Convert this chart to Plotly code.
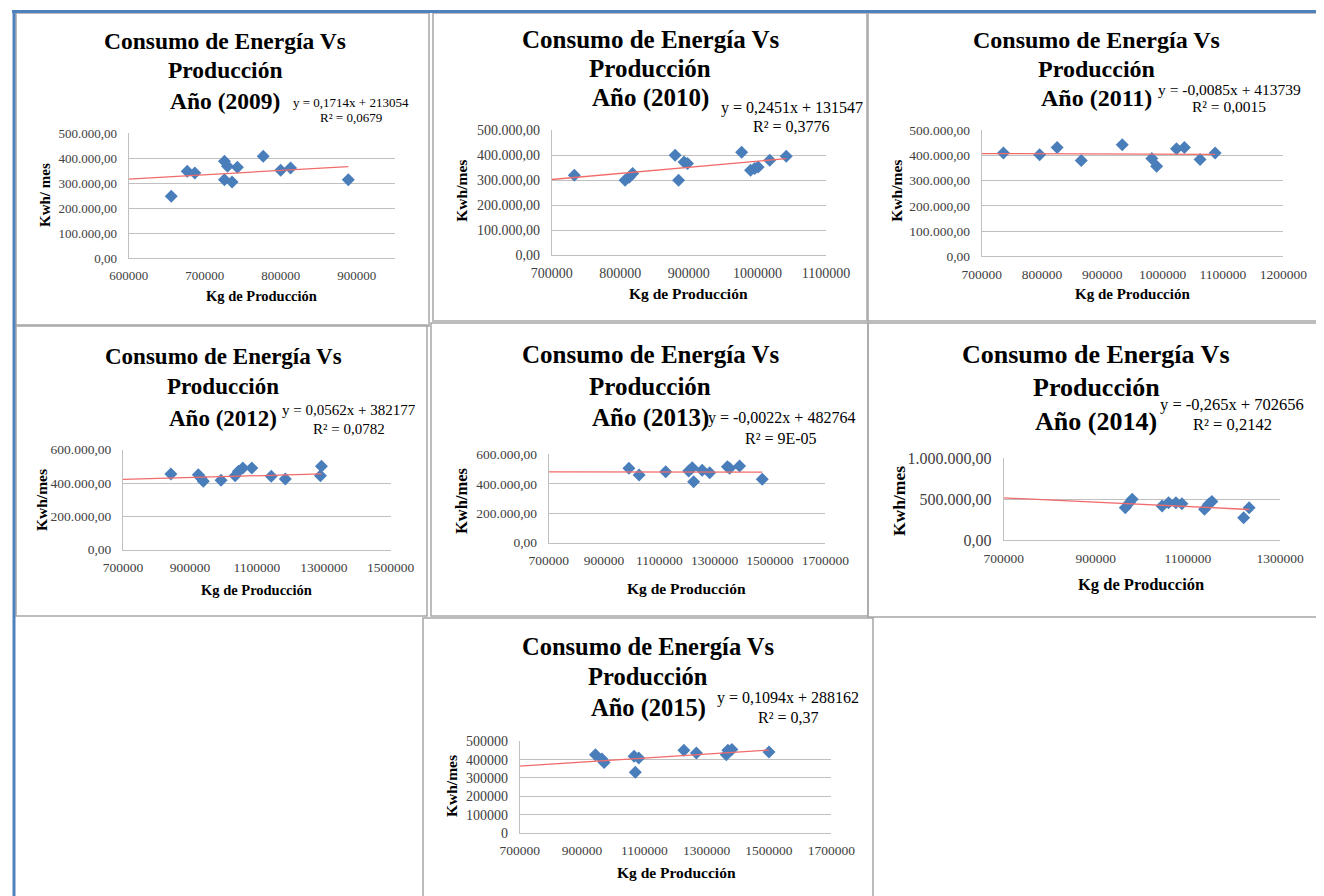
import plotly.graph_objects as go

W, H = 1324, 896

# ---------------- data ----------------
years = ["2009", "2010", "2011", "2012", "2013", "2014", "2015"]

prod_2009 = [656000, 677000, 687000, 726000, 730000, 726000, 736000, 743000, 777000, 800000, 813000, 889000]
kwh_2009 = [247000, 347000, 340000, 387000, 367000, 313000, 304000, 363000, 407000, 351000, 360000, 313000]

prod_2010 = [733000, 807000, 813000, 818000, 880000, 885000, 893000, 898000, 977000, 990000, 996000, 1001000, 1018000, 1042000]
kwh_2010 = [320000, 300000, 312000, 327000, 400000, 300000, 373000, 367000, 412000, 340000, 347000, 353000, 380000, 396000]

prod_2011 = [736000, 796000, 825000, 865000, 933000, 982000, 990000, 1023000, 1036000, 1062000, 1087000]
kwh_2011 = [410000, 403000, 432000, 380000, 443000, 388000, 357000, 427000, 432000, 384000, 410000]

prod_2012 = [843000, 925000, 933000, 940000, 993000, 1035000, 1045000, 1058000, 1085000, 1143000, 1185000, 1290000, 1293000]
kwh_2012 = [454000, 450000, 430000, 410000, 416000, 444000, 470000, 490000, 490000, 440000, 424000, 444000, 500000]

prod_2013 = [990000, 1027000, 1123000, 1206000, 1219000, 1224000, 1255000, 1282000, 1346000, 1354000, 1390000, 1472000]
kwh_2013 = [505000, 460000, 482000, 487000, 509000, 414000, 491000, 475000, 516000, 505000, 521000, 430000]

prod_2014 = [964000, 973000, 979000, 1044000, 1058000, 1074000, 1087000, 1136000, 1145000, 1152000, 1221000, 1233000]
kwh_2014 = [398000, 459000, 500000, 419000, 459000, 459000, 447000, 378000, 439000, 472000, 276000, 398000]

prod_2015 = [943000, 964000, 971000, 1067000, 1071000, 1082000, 1227000, 1267000, 1363000, 1368000, 1381000, 1500000]
kwh_2015 = [427000, 404000, 385000, 418000, 331000, 409000, 451000, 436000, 427000, 451000, 455000, 442000]

slopes = [0.1714, 0.2451, -0.0085, 0.0562, -0.0022, -0.265, 0.1094]
intercepts = [213054, 131547, 413739, 382177, 482764, 702656, 288162]
eq_texts = ["y = 0,1714x + 213054", "y = 0,2451x + 131547", "y = -0,0085x + 413739",
            "y = 0,0562x + 382177", "y = -0,0022x + 482764", "y = -0,265x + 702656",
            "y = 0,1094x + 288162"]
r2_texts = ["R² = 0,0679", "R² = 0,3776", "R² = 0,0015", "R² = 0,0782",
            "R² = 9E-05", "R² = 0,2142", "R² = 0,37"]
y_titles = ["Kwh/ mes", "Kwh/mes", "Kwh/mes", "Kwh/mes", "Kwh/mes", "Kwh/mes", "Kwh/mes"]
x_title = "Kg de Producción"
title_lines = ["Consumo de Energía Vs", "Producción"]

# axis ranges / ticks
x_ranges = [[600000, 950000], [700000, 1100000], [700000, 1200000], [700000, 1500000],
            [700000, 1700000], [700000, 1300000], [700000, 1700000]]
x_dticks = [100000, 100000, 100000, 200000, 200000, 200000, 200000]
y_ranges = [[0, 500000], [0, 500000], [0, 500000], [0, 600000], [0, 600000], [0, 1000000], [0, 500000]]
y_dticks = [100000, 100000, 100000, 200000, 200000, 500000, 100000]
y_formats = [",.2f", ",.2f", ",.2f", ",.2f", ",.2f", ",.2f", "d"]

xs_all = [prod_2009, prod_2010, prod_2011, prod_2012, prod_2013, prod_2014, prod_2015]
ys_all = [kwh_2009, kwh_2010, kwh_2011, kwh_2012, kwh_2013, kwh_2014, kwh_2015]

# ---------------- layout geometry (pixels) ----------------
plot_areas = [  # L, R, T, B
    (120.7, 386.7, 125.0, 250.0),
    (543.7, 818.0, 122.3, 247.3),
    (973.7, 1275.3, 122.3, 248.3),
    (115.0, 382.7, 441.7, 541.7),
    (540.7, 817.3, 446.3, 534.7),
    (995.7, 1272.0, 450.3, 532.3),
    (511.7, 823.3, 733.3, 825.0),
]
boxes = [(8, 421, 5, 318), (425, 859, 5, 313), (860, 1315, 5, 313),
         (8, 419, 317, 608), (423, 860, 315, 608), (860, 1315, 315, 609),
         (415, 865, 610, 894)]
title_pos = [  # cx, y1, y2, y3, size
    (216.7, 33, 62, 93, 23.5),
    (642, 32, 61, 90, 25),
    (1088, 32, 61, 90, 24),
    (215, 348, 378, 410, 23),
    (642, 346, 378, 410, 25),
    (1088, 346, 380, 413, 26),
    (640, 638, 668, 700, 24.5),
]
eq_pos = [  # cx, y_eq, y_r2, size
    (343, 95, 110, 13),
    (784, 100, 118, 16),
    (1221, 82, 99, 15.5),
    (341, 402, 421, 15),
    (773, 410, 430, 16),
    (1224, 396, 416, 16.5),
    (780, 690, 709, 16),
]
ytitle_pos = [(37, 187, 15), (453.7, 183, 15.5), (888.7, 183, 15.5), (33, 492, 15.5),
              (453, 493, 16.5), (891, 493, 17.5), (443, 778, 15.5)]
xtitle_pos = [(253, 288, 14.5), (680, 285, 15.5), (1124.7, 286, 15), (248, 582, 14.5),
              (678, 580, 15.5), (1133, 576, 16.5), (668, 864, 15.5)]
ytick_sizes = [13, 14, 13.5, 13.5, 13.5, 16, 14]
xtick_sizes = [13, 14, 13.5, 13.5, 13.5, 13.5, 13.5]

FONT = "Liberation Serif, Times New Roman, serif"
MARK = "#4A7EBB"
GRID = "#C0C0C0"

def px(x):
    return x / W

def py(y):
    return 1 - y / H

fig = go.Figure()
annotations = []
shapes = []

for i in range(7):
    n = "" if i == 0 else str(i + 1)
    xa, ya = "x" + n, "y" + n
    xs, ys = xs_all[i], ys_all[i]
    fig.add_trace(go.Scatter(x=xs, y=ys, mode="markers", xaxis=xa, yaxis=ya,
                             marker=dict(symbol="diamond", size=10, color=MARK,
                                         line=dict(width=0)),
                             hoverinfo="skip", showlegend=False))
    tx = [x_ranges[i][0], max(xs)]
    ty = [slopes[i] * v + intercepts[i] for v in tx]
    fig.add_trace(go.Scatter(x=tx, y=ty, mode="lines", xaxis=xa, yaxis=ya,
                             line=dict(color="#F26B6B", width=1.3),
                             hoverinfo="skip", showlegend=False))
    L, R, T, B = plot_areas[i]
    fig.layout["xaxis" + n] = dict(
        domain=[px(L), px(R)], range=x_ranges[i], dtick=x_dticks[i], tick0=x_ranges[i][0],
        anchor=ya, tickformat="d", showgrid=False, zeroline=False,
        showline=True, linecolor=GRID, linewidth=1,
        ticks="outside", ticklen=5, tickcolor="rgba(0,0,0,0)",
        tickfont=dict(family=FONT, size=xtick_sizes[i], color="#404040"),
        fixedrange=True, automargin=False)
    fig.layout["yaxis" + n] = dict(
        domain=[py(B), py(T)], range=y_ranges[i], dtick=y_dticks[i], tick0=0,
        anchor=xa, tickformat=y_formats[i], showgrid=True, gridcolor=GRID, gridwidth=1,
        zeroline=False, showline=True, linecolor=GRID, linewidth=1,
        ticks="outside", ticklen=8, tickcolor="rgba(0,0,0,0)",
        tickfont=dict(family=FONT, size=ytick_sizes[i], color="#404040"),
        fixedrange=True, automargin=False)

    # panel frame
    bx0, bx1, by0, by1 = boxes[i]
    shapes.append(dict(type="rect", xref="paper", yref="paper",
                       x0=px(bx0), x1=px(bx1), y0=py(by1), y1=py(by0),
                       line=dict(color="#A6A6A6", width=1.5), layer="below"))

    # title
    cx, y1, y2, y3, fs = title_pos[i]
    for txt, yy in zip(title_lines + ["Año (" + years[i] + ")"], [y1, y2, y3]):
        annotations.append(dict(text="<b>" + txt + "</b>", x=px(cx), y=py(yy),
                                xref="paper", yref="paper", xanchor="center", yanchor="middle",
                                showarrow=False, font=dict(family=FONT, size=fs, color="#000")))
    # equation
    ecx, ey, ry, es = eq_pos[i]
    annotations.append(dict(text=eq_texts[i], x=px(ecx), y=py(ey), xref="paper", yref="paper",
                            xanchor="center", yanchor="middle", showarrow=False,
                            font=dict(family=FONT, size=es, color="#000")))
    annotations.append(dict(text=r2_texts[i], x=px(ecx), y=py(ry), xref="paper", yref="paper",
                            xanchor="center", yanchor="middle", showarrow=False,
                            font=dict(family=FONT, size=es, color="#000")))
    # axis titles
    ycx, ycy, ys_ = ytitle_pos[i]
    annotations.append(dict(text="<b>" + y_titles[i] + "</b>", x=px(ycx), y=py(ycy),
                            xref="paper", yref="paper", xanchor="center", yanchor="middle",
                            textangle=-90, showarrow=False,
                            font=dict(family=FONT, size=ys_, color="#000")))
    xcx, xcy, xs_ = xtitle_pos[i]
    annotations.append(dict(text="<b>" + x_title + "</b>", x=px(xcx), y=py(xcy),
                            xref="paper", yref="paper", xanchor="center", yanchor="middle",
                            showarrow=False, font=dict(family=FONT, size=xs_, color="#000")))

# outer blue frame (top and left)
shapes.append(dict(type="line", xref="paper", yref="paper", x0=px(4), x1=1, y0=py(3.5), y1=py(3.5),
                   line=dict(color="#4F81BD", width=3)))
shapes.append(dict(type="line", xref="paper", yref="paper", x0=px(6), x1=px(6), y0=0, y1=py(3.5),
                   line=dict(color="#4F81BD", width=3)))

fig.update_layout(width=W, height=H, margin=dict(l=0, r=0, t=0, b=0),
                  paper_bgcolor="white", plot_bgcolor="white",
                  separators=",.", showlegend=False,
                  annotations=annotations, shapes=shapes,
                  font=dict(family=FONT))

fig.write_html("out.html")
